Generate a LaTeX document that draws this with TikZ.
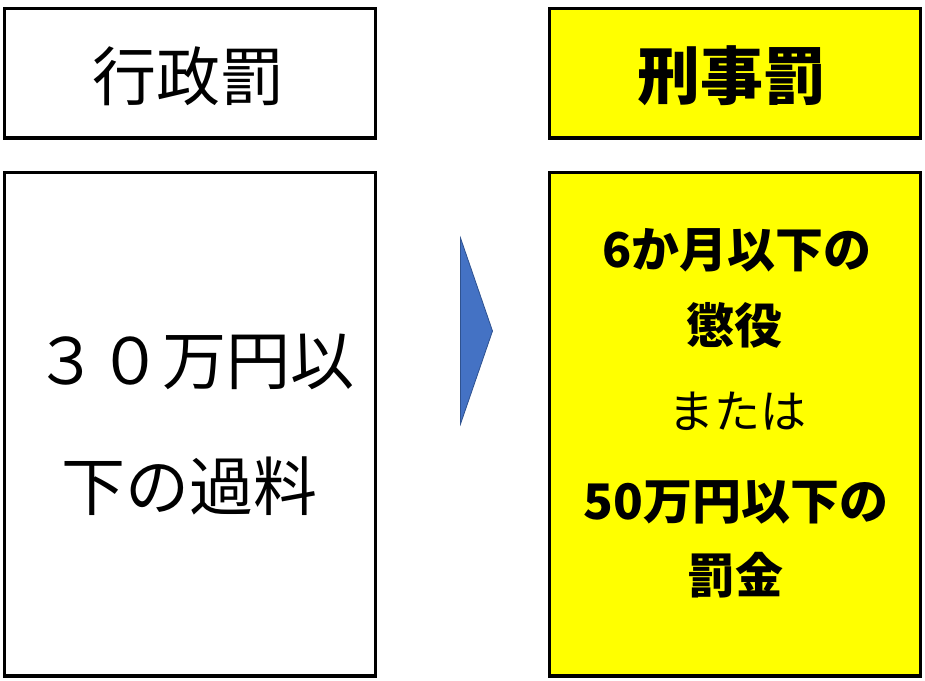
\documentclass[tikz,border=0pt]{standalone}
\usepackage{fontspec}
\newfontfamily\jp{Noto Sans CJK JP}
\definecolor{hlyellow}{HTML}{FFFF00}
\definecolor{arrowblue}{HTML}{4472C4}
\definecolor{arrowedge}{HTML}{2F528F}
\begin{document}
\begin{tikzpicture}[x=1pt,y=-1pt,
  box/.style={draw=black, line width=3.2pt, rectangle, inner sep=0pt, outer sep=0pt, minimum width=371pt},
  hdr/.style={box, minimum height=129.5pt},
  bodybox/.style={box, minimum height=503.5pt},
  serifish/.style={font=\jp\fontsize{64pt}{64pt}\selectfont, inner sep=0pt},
  headbold/.style={font=\jp\bfseries\fontsize{63pt}{63pt}\selectfont, inner sep=0pt},
  bodybold/.style={font=\jp\bfseries\fontsize{48pt}{48pt}\selectfont, inner sep=0pt},
  bodyplain/.style={font=\jp\fontsize{46pt}{46pt}\selectfont, inner sep=0pt}
]
\useasboundingbox (0,0) rectangle (925,680);
% boxes
\node[hdr, fill=white] (hdrL) at (190,73.25) {};
\node[hdr, fill=hlyellow] (hdrR) at (735,73.25) {};
\node[bodybox, fill=white] (bodyL) at (190,424.25) {};
\node[bodybox, fill=hlyellow] (bodyR) at (735,424.25) {};
% arrow
\coordinate (arTop) at (460.5,238);
\coordinate (arTip) at (492.5,331);
\coordinate (arBot) at (460.5,424);
\filldraw[fill=arrowblue, draw=arrowedge, line width=0.8pt, line join=miter] (arTop) -- (arTip) -- (arBot) -- cycle;
% header texts
\node[serifish] (tL) at (188,76) {行政罰};
\node[headbold] (tR) at (732,76) {刑事罰};
% left body
\node[serifish] (l1) at (194,362) {３０万円以};
\node[serifish] (l2) at (189,486) {下の過料};
% right body
\node[bodybold] (r1) at (737,250) {6か月以下の};
\node[bodybold] (r2) at (734,325) {懲役};
\node[bodyplain] (r3) at (737,411) {または};
\node[bodybold,font=\jp\bfseries\fontsize{49pt}{49pt}\selectfont] (r4) at (736,502) {50万円以下の};
\node[bodybold] (r5) at (735,575) {罰金};
\end{tikzpicture}
\end{document}
